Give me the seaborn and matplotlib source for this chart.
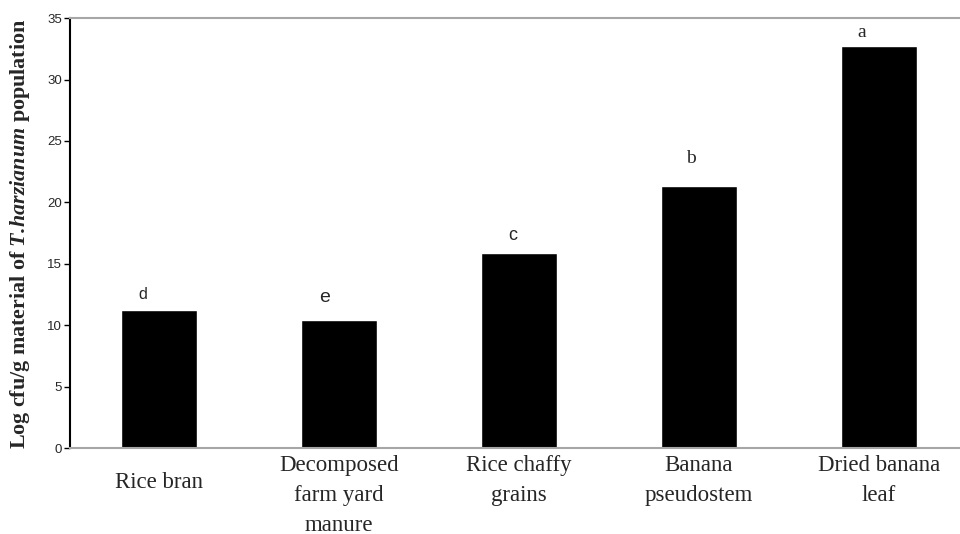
import numpy as np
import pandas as pd
import matplotlib
matplotlib.use('Agg')
import matplotlib.pyplot as plt
import seaborn as sns

# values
materials = ['Rice bran', 'Decomposed farm yard manure', 'Rice chaffy grains',
             'Banana pseudostem', 'Dried banana leaf']
tick_labels = ['Rice bran', 'Decomposed\nfarm yard\nmanure', 'Rice chaffy\ngrains',
               'Banana\npseudostem', 'Dried banana\nleaf']
log_cfu = [11.2, 10.4, 15.9, 21.35, 32.7]
letters = ['d', 'e', 'c', 'b', 'a']

df = pd.DataFrame({'material': materials, 'log_cfu': log_cfu})

sns.set_style('white')
plt.rcParams['mathtext.fontset'] = 'custom'
plt.rcParams['mathtext.bfit'] = 'Liberation Serif:italic:bold'
plt.rcParams['mathtext.rm'] = 'Liberation Serif:bold'

fig = plt.figure(figsize=(9.6, 5.34), dpi=100)
ax = fig.add_axes([0.073, 0.161, 0.927, 0.805])

sns.barplot(data=df, x='material', y='log_cfu', color='black', saturation=1,
            width=0.42, ax=ax)

ax.set_xlim(-0.494, 4.45)
ax.set_ylim(0, 35)
ax.set_yticks(np.arange(0, 36, 5))
ax.tick_params(axis='y', direction='out', length=4, width=1, color='black',
               labelsize=9.5, pad=2, left=True)
for t in ax.get_yticklabels():
    t.set_fontfamily('Liberation Sans')

# category labels: multi-line ones hang from the axis, the single one is centred lower
ax.set_xticks(range(len(materials)))
ax.set_xticklabels([])
ax.tick_params(axis='x', length=0)
for i, lab in enumerate(tick_labels):
    single = '\n' not in lab
    ax.annotate(lab, xy=(i, 0), xycoords=('data', 'axes fraction'),
                xytext=(0, -34 if single else -7), textcoords='offset pixels',
                ha='center', va='center' if single else 'top',
                fontfamily='Liberation Serif', fontsize=16.5, linespacing=1.55)

ax.spines['left'].set_color('black')
ax.spines['left'].set_linewidth(1.5)
for s in ['top', 'bottom']:
    ax.spines[s].set_color('#a6a6a6')
    ax.spines[s].set_linewidth(1.5)
ax.spines['right'].set_visible(False)

ax.set_xlabel('')
ax.set_ylabel(r'Log cfu/g material of $\mathbfit{T.\!harzianum}$ population',
              fontfamily='Liberation Serif', fontweight='bold', fontsize=15.8)
ax.yaxis.set_label_coords(-0.0426, 0.498)

# significance letters (first three in sans, last two in serif as in the original)
letter_fonts = ['Liberation Sans', 'Liberation Sans', 'Liberation Sans',
                'Liberation Serif', 'Liberation Serif']
letter_sizes = [11.5, 14, 13, 14, 14]
offsets = [(-16, 16), (-14, 23), (-6, 17), (-8, 27), (-17, 14)]
for i, (v, lab) in enumerate(zip(log_cfu, letters)):
    ax.annotate(lab, xy=(i, v), xytext=offsets[i], textcoords='offset pixels',
                ha='center', va='center', fontfamily=letter_fonts[i],
                fontsize=letter_sizes[i])

fig.savefig('out.png', dpi=100)
